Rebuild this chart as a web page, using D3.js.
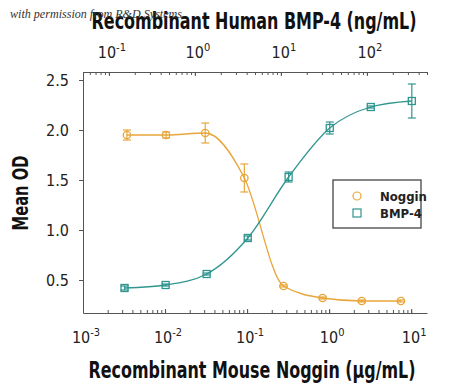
<!DOCTYPE html>
<html>
<head>
<meta charset="utf-8">
<script src="https://cdn.jsdelivr.net/npm/d3@7"></script>
<style>
  body { margin: 0; background: #fff; }
  svg { display: block; }
  .cond { font-family: "Liberation Sans Narrow", "DejaVu Sans Condensed", "Roboto Condensed", sans-serif; font-stretch: condensed; }
</style>
</head>
<body>
<div id="chart"></div>
<script>
// noggin dose series (bottom axis, ug/mL)
const nogginConc = [0.00343, 0.0103, 0.0309, 0.0926, 0.278, 0.833, 2.5, 7.5];
const nogginOD = [1.95, 1.95, 1.97, 1.52, 0.44, 0.32, 0.29, 0.29];
const nogginErr = [0.05, 0.03, 0.10, 0.14, 0.01, 0.01, 0.01, 0.01];
// BMP-4 dose series (top axis, ng/mL)
const bmpConc = [0.152, 0.457, 1.37, 4.12, 12.3, 37, 111, 333];
const bmpOD = [0.42, 0.45, 0.56, 0.92, 1.53, 2.02, 2.23, 2.29];
const bmpErr = [0.02, 0.01, 0.01, 0.02, 0.05, 0.06, 0.01, 0.17];
// tick labels
const bottomExps = [-3, -2, -1, 0, 1];
const topExps = [-1, 0, 1, 2];
const yTicks = [0.5, 1.0, 1.5, 2.0, 2.5];

const width = 450, height = 389;
const mLeft = 83, mRight = 427, mTop = 72, mBottom = 313;
const orange = "#e8a63a", teal = "#2f958f", axisCol = "#555";

const svg = d3.select('#chart').append('svg')
  .attr('width', width).attr('height', height);

const xBottom = d3.scaleLog().domain([0.001, 15.6]).range([mLeft, mRight]);
const xTop = d3.scaleLog().domain([0.05, 500]).range([mLeft, mRight]);
const y = d3.scaleLinear().domain([0.17, 2.58]).range([mBottom, mTop]);

// bottom axis, ticks inside
svg.append('g').attr('transform', `translate(0,${mBottom})`)
  .call(d3.axisTop(xBottom).tickValues(xBottom.ticks()).tickSize(3).tickSizeOuter(0).tickFormat(''));
svg.append('g').attr('transform', `translate(0,${mBottom})`)
  .call(d3.axisTop(xBottom).tickValues(bottomExps.map(e => Math.pow(10, e))).tickSize(4).tickFormat(''))
  .select('.domain').remove();

// top axis, ticks inside
svg.append('g').attr('transform', `translate(0,${mTop})`)
  .call(d3.axisBottom(xTop).tickValues(xTop.ticks()).tickSize(3).tickSizeOuter(0).tickFormat(''));
svg.append('g').attr('transform', `translate(0,${mTop})`)
  .call(d3.axisBottom(xTop).tickValues(topExps.map(e => Math.pow(10, e))).tickSize(4).tickFormat(''))
  .select('.domain').remove();

// left axis
const yAxis = svg.append('g').attr('transform', `translate(${mLeft},0)`)
  .call(d3.axisLeft(y).tickValues(yTicks).tickSize(4).tickSizeOuter(0).tickPadding(10).tickFormat(d3.format('.1f')));
yAxis.selectAll('text').attr('class', 'cond').style('font-size', '16px').attr('fill', '#222');

svg.selectAll('.domain, .tick line').attr('stroke', axisCol).attr('stroke-width', 1);

// power-of-ten labels
function powLabel(g, x, yy, e) {
  const t = g.append('text').attr('class', 'cond').attr('x', x).attr('y', yy)
    .attr('text-anchor', 'middle').attr('fill', '#222').style('font-size', '16px');
  t.append('tspan').text('10');
  t.append('tspan').attr('dy', -7).style('font-size', '11px').text(e);
}
const labels = svg.append('g');
bottomExps.forEach(e => powLabel(labels, xBottom(Math.pow(10, e)) + 3, 343, e));
topExps.forEach(e => powLabel(labels, xTop(Math.pow(10, e)) + 3, 58, e));

// squeeze a bold title horizontally so it spans the given width
function fitText(txt, cx, cy, w, size, rot) {
  const g = svg.append('g');
  const t = g.append('text').attr('class', 'cond').attr('text-anchor', 'middle')
    .style('font-size', size + 'px').style('font-weight', 'bold').attr('fill', '#111').text(txt);
  const len = t.node().getComputedTextLength();
  g.attr('transform', `translate(${cx},${cy}) rotate(${rot || 0}) scale(${Math.min(1, w / len)},1)`);
}
fitText('Recombinant Human BMP-4 (ng/mL)', 254, 29, 325, 23);
fitText('Recombinant Mouse Noggin (\u03bcg/mL)', 252, 378, 327, 23);
fitText('Mean OD', 28, 193, 75, 21, -90);

// watermark
svg.append('text').attr('x', 10).attr('y', 18)
  .style('font-family', '"Liberation Serif", "DejaVu Serif", serif').style('font-style', 'italic')
  .style('font-size', '12px').attr('fill', '#333')
  .attr('textLength', 172).attr('lengthAdjust', 'spacingAndGlyphs')
  .text('with permission from R&D Systems');

// series
const noggin = nogginConc.map((c, i) => ({x: xBottom(c), v: nogginOD[i], e: nogginErr[i]}));
const bmp = bmpConc.map((c, i) => ({x: xTop(c), v: bmpOD[i], e: bmpErr[i]}));

const line = d3.line().x(d => d.x).y(d => y(d.v)).curve(d3.curveMonotoneX);

function drawSeries(data, color, shape) {
  const g = svg.append('g');
  g.append('path').datum(data).attr('d', line)
    .attr('fill', 'none').attr('stroke', color).attr('stroke-width', 1.3);
  const eb = g.selectAll('.eb').data(data).enter().append('g').attr('class', 'eb');
  eb.append('line').attr('x1', d => d.x).attr('x2', d => d.x)
    .attr('y1', d => y(d.v - d.e)).attr('y2', d => y(d.v + d.e));
  eb.append('line').attr('x1', d => d.x - 4).attr('x2', d => d.x + 4)
    .attr('y1', d => y(d.v - d.e)).attr('y2', d => y(d.v - d.e));
  eb.append('line').attr('x1', d => d.x - 4).attr('x2', d => d.x + 4)
    .attr('y1', d => y(d.v + d.e)).attr('y2', d => y(d.v + d.e));
  eb.selectAll('line').attr('stroke', color).attr('stroke-width', 1.2);
  if (shape === 'circle') {
    g.selectAll('.pt').data(data).enter().append('circle')
      .attr('cx', d => d.x).attr('cy', d => y(d.v)).attr('r', 3.7)
      .attr('fill', 'none').attr('stroke', color).attr('stroke-width', 1.3);
  } else {
    g.selectAll('.pt').data(data).enter().append('rect')
      .attr('x', d => d.x - 3.5).attr('y', d => y(d.v) - 3.5).attr('width', 7).attr('height', 7)
      .attr('fill', 'none').attr('stroke', color).attr('stroke-width', 1.3);
  }
}
drawSeries(noggin, orange, 'circle');
drawSeries(bmp, teal, 'square');

// legend
const lg = svg.append('g');
lg.append('rect').attr('x', 333).attr('y', 180).attr('width', 88).attr('height', 48)
  .attr('fill', '#fff').attr('stroke', '#444').attr('stroke-width', 1.3);
lg.append('circle').attr('cx', 357).attr('cy', 196).attr('r', 4)
  .attr('fill', 'none').attr('stroke', orange).attr('stroke-width', 1.2);
lg.append('rect').attr('x', 353).attr('y', 209).attr('width', 8).attr('height', 8)
  .attr('fill', 'none').attr('stroke', teal).attr('stroke-width', 1.2);
lg.append('text').attr('class', 'cond').attr('x', 380).attr('y', 201)
  .style('font-size', '13px').style('font-weight', 'bold').attr('fill', '#222').text('Noggin');
lg.append('text').attr('class', 'cond').attr('x', 380).attr('y', 218)
  .style('font-size', '13px').style('font-weight', 'bold').attr('fill', '#222').text('BMP-4');
</script>
</body>
</html>
